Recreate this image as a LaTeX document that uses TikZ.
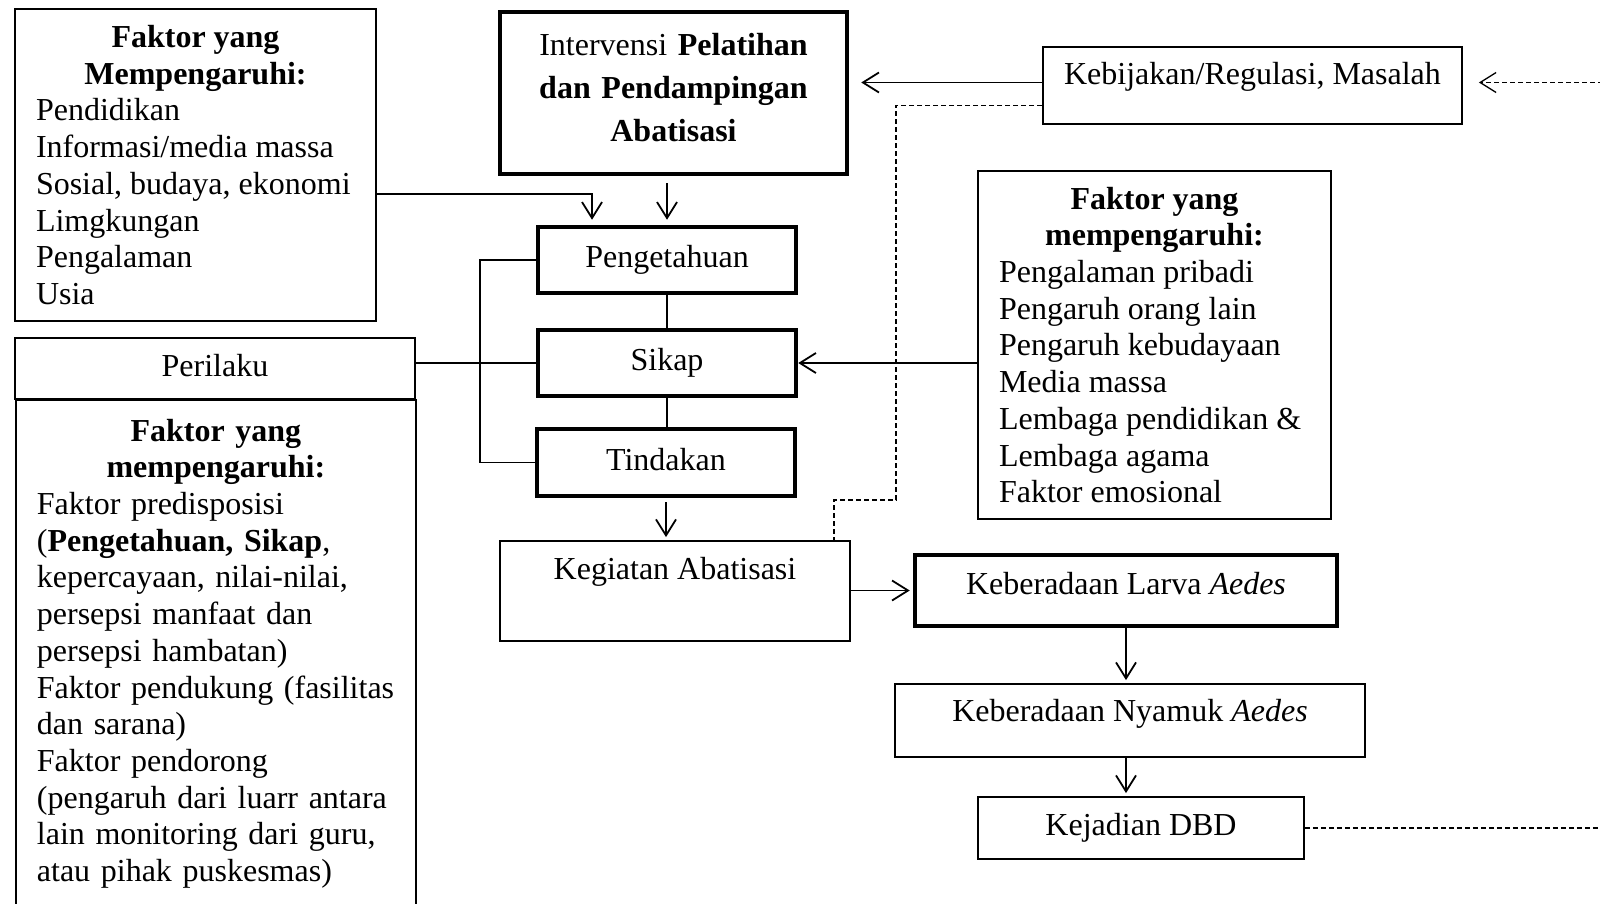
\documentclass[tikz,border=0pt]{standalone}
\usepackage{fontspec}
\setmainfont{Liberation Serif}
\usetikzlibrary{arrows.meta}

\begin{document}
\begin{tikzpicture}[x=1pt, y=-1pt,
  box/.style={draw, line width=1.8pt, inner sep=0pt, font=\fontsize{32}{36.7}\selectfont},
  boldbox/.style={box, line width=4.5pt},
  cell/.style={text height=22pt, text depth=7pt},
  arr/.style={line width=1.8pt, -{Straight Barb[length=16pt,width=20pt]}, shorten >=3pt},
  dashln/.style={line width=1.3pt, dash pattern=on 5pt off 3pt}]
\useasboundingbox (0,0) rectangle (1600,903);

\node[box, minimum width=361pt, minimum height=312pt, align=left] (fpeng) at (195.5,165)
  {\makebox[319pt]{\bfseries Faktor yang}\\
   \makebox[319pt]{\bfseries Mempengaruhi:}\\
   Pendidikan\\ Informasi/media massa\\ Sosial, budaya, ekonomi\\ Limgkungan\\ Pengalaman\\ Usia};

\node[boldbox, minimum width=347pt, minimum height=162pt, text width=320pt, align=center,
  font=\fontsize{32}{43}\selectfont, text height=22pt, text depth=98pt] (interv) at (673.5,93)
  {Intervensi \textbf{Pelatihan}\\ \textbf{dan Pendampingan}\\ \textbf{Abatisasi}};
\node[box, minimum width=419pt, minimum height=77pt, text height=22pt, text depth=24pt] (kebijakan) at (1252.5,85.5)
  {Kebijakan/Regulasi, Masalah};

\node[boldbox, cell, minimum width=258pt, minimum height=66pt] (peng) at (667,260) {Pengetahuan};
\node[boldbox, cell, minimum width=258pt, minimum height=66pt] (sikap) at (667,363) {Sikap};
\node[boldbox, cell, minimum width=258pt, minimum height=67pt] (tind) at (666,462.5) {Tindakan};

\node[box, minimum width=353pt, minimum height=348pt, align=left] (fsikap) at (1154.5,345)
  {\makebox[311pt]{\bfseries Faktor yang}\\
   \makebox[311pt]{\bfseries mempengaruhi:}\\
   Pengalaman pribadi\\ Pengaruh orang lain\\ Pengaruh kebudayaan\\ Media massa\\
   Lembaga pendidikan \&\\ Lembaga agama\\ Faktor emosional};

\node[box, cell, minimum width=400pt, minimum height=61pt] (perilaku) at (215,368.5) {Perilaku};
\node[box, anchor=north west, text width=358pt, align=left, inner xsep=21pt, inner ysep=19pt,
  text depth=480pt] (fperilaku) at (15,399)
  {\makebox[\linewidth]{\bfseries Faktor yang}\\
   \makebox[\linewidth]{\bfseries mempengaruhi:}\\
   Faktor predisposisi\\ (\textbf{Pengetahuan, Sikap},\\ kepercayaan, nilai-nilai,\\
   persepsi manfaat dan\\ persepsi hambatan)\\ Faktor pendukung (fasilitas\\ dan sarana)\\
   Faktor pendorong\\ (pengaruh dari luarr antara\\ lain monitoring dari guru,\\ atau pihak puskesmas)};

\node[box, minimum width=350pt, minimum height=100pt, text height=22pt, text depth=46pt] (keg) at (675,591)
  {Kegiatan Abatisasi};
\node[boldbox, minimum width=422pt, minimum height=71pt, text height=22pt, text depth=14pt] (larva) at (1126,590.5)
  {Keberadaan Larva \textit{Aedes}};
\node[box, minimum width=470pt, minimum height=73pt, text height=22pt, text depth=20pt] (nyamuk) at (1130,720.5)
  {Keberadaan Nyamuk \textit{Aedes}};
\node[box, cell, minimum width=326pt, minimum height=62pt] (dbd) at (1141,828) {Kejadian DBD};

\coordinate (kinkA) at (592,194);
\coordinate (brk) at (480,0);
\coordinate (dA) at (896,500);
\coordinate (dB) at (834,500);
\coordinate (edgeR) at (1625,0);

\draw[arr, shorten >=5pt] (fpeng.east |- kinkA) -| (peng.north -| kinkA);
\draw[arr, shorten <=7pt, shorten >=5pt] (interv.south -| peng.north) -- (peng.north);
\draw[arr, shorten >=12pt] ([yshift=3pt]kebijakan.west) -- ([yshift=3pt]kebijakan.west -| interv.east);

\draw[line width=1.8pt] (peng.south) -- (peng.south |- sikap.north);
\draw[line width=1.8pt] (sikap.south) -- (sikap.south |- tind.north);
\draw[line width=1.8pt] (peng.west) -| (brk |- tind.west) -- (tind.west);
\draw[line width=1.8pt] (perilaku.east |- sikap.west) -- (sikap.west);
\draw[arr, shorten >=0pt] (fsikap.west |- sikap.east) -- (sikap.east);

\draw[arr, shorten <=4pt] (tind.south) -- (tind.south |- keg.north);
\draw[arr] (keg.east |- larva.west) -- (larva.west);
\draw[arr] (larva.south) -- (larva.south |- nyamuk.north);
\draw[arr] (larva.south |- nyamuk.south) -- (larva.south |- dbd.north);

\draw[dashln] ([yshift=-20pt]kebijakan.west) -| (dA) -- (dB) -- (dB |- keg.north);
\draw[dashln, -{Straight Barb[length=16pt,width=20pt]}, shorten >=16pt]
  (dbd.east) -- (dbd.east -| edgeR) |- ([yshift=3pt]kebijakan.east);

\end{tikzpicture}
\end{document}
